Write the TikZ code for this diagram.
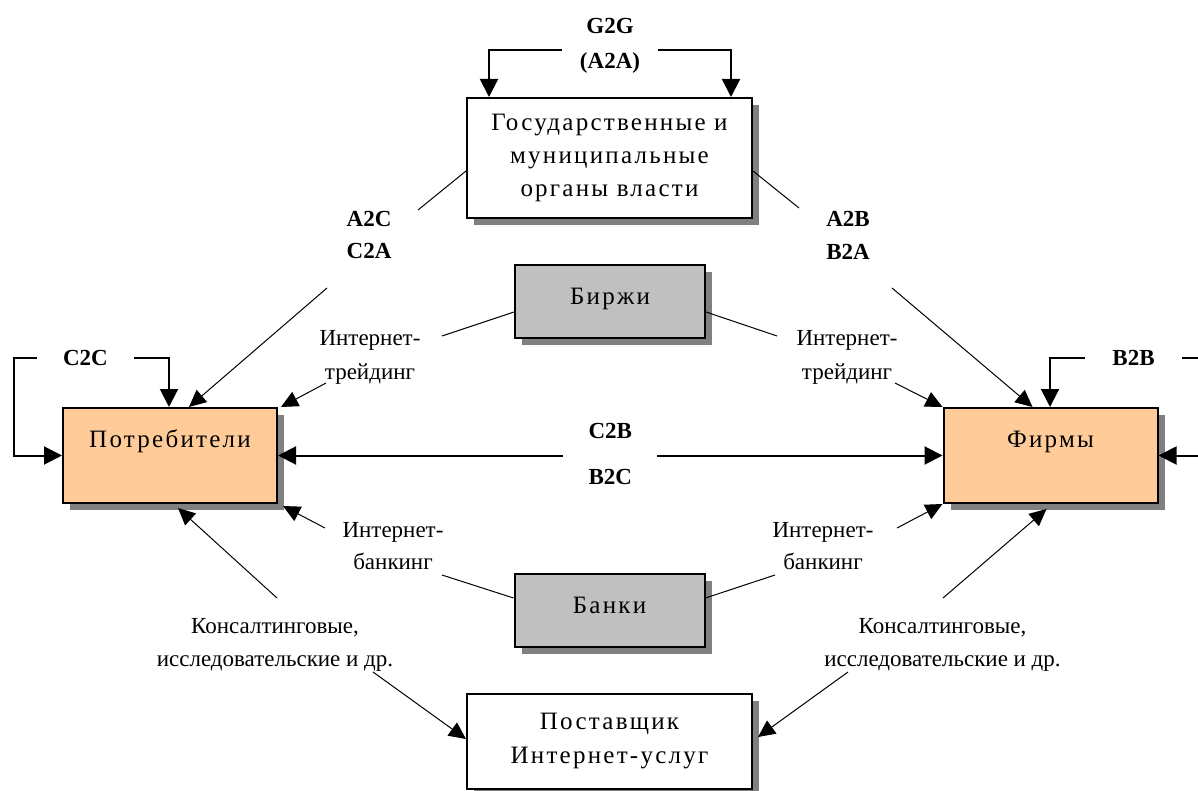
\documentclass[tikz,border=0pt]{standalone}
\usepackage{fontspec}
\setmainfont{Liberation Serif}
\newfontfamily\boxfont[LetterSpace=9]{Liberation Serif}
\usetikzlibrary{arrows.meta,shadows}
\definecolor{peach}{HTML}{FFCC99}
\definecolor{silverbox}{HTML}{C0C0C0}
\definecolor{shadowgray}{HTML}{808080}
\begin{document}
\begin{tikzpicture}[x=1pt,y=-1pt,
  panel/.style={draw=black, line width=2pt, inner sep=0pt, align=center,
    font=\boxfont\fontsize{25}{33}\selectfont,
    drop shadow={shadow xshift=7pt, shadow yshift=-7pt, fill=shadowgray, opacity=1}},
  lbl/.style={inner sep=0pt, align=center, font=\fontsize{23}{33.4}\selectfont},
  blbl/.style={inner sep=0pt, align=center, font=\bfseries\fontsize{23}{32.3}\selectfont},
  gapnode/.style={fill=white, inner ysep=2pt, align=center},
  thk/.style={line width=2pt},
  thn/.style={line width=1pt},
  onearrow/.style={-{Triangle[length=17pt,width=16pt]}},
  twoarrows/.style={{Triangle[length=18pt,width=18pt]}-{Triangle[length=18pt,width=18pt]}}
]
\useasboundingbox (0,0) rectangle (1198,791);
\fill[white] (0,0) rectangle (1198,791);
\clip (0,0) rectangle (1198,791);

% boxes
\node[panel, fill=white, minimum width=285pt, minimum height=120pt] (gov) at (609.5,158) {Государственные и\\муниципальные\\органы власти};
\node[panel, fill=silverbox, minimum width=190pt, minimum height=73pt, text height=17pt, text depth=10pt] (birzhi) at (610,301.5) {Биржи};
\node[panel, fill=silverbox, minimum width=190pt, minimum height=73pt, text height=17pt, text depth=11pt] (banki) at (609.5,610.5) {Банки};
\node[panel, fill=peach, minimum width=214pt, minimum height=95pt, text height=17pt, text depth=34pt] (cons) at (170,455.5) {Потребители};
\node[panel, fill=peach, minimum width=214pt, minimum height=95pt, text height=17pt, text depth=34pt] (firms) at (1050.5,455.5) {Фирмы};
\node[panel, fill=white, minimum width=285pt, minimum height=95pt, font=\boxfont\fontsize{25}{34}\selectfont] (isp) at (609.5,741.5) {Поставщик\\Интернет-услуг};

% labels
\node[blbl] (a2c) at (369,235.3) {A2C\\C2A};
\node[blbl] (a2b) at (848,235.3) {A2B\\B2A};
\node[lbl, font=\fontsize{23}{34}\selectfont] (trL) at (370,357) {Интернет-\\трейдинг};
\node[lbl, font=\fontsize{23}{34}\selectfont] (trR) at (847,357) {Интернет-\\трейдинг};
\node[lbl, font=\fontsize{23}{31.3}\selectfont] (bkL) at (393,546) {Интернет-\\банкинг};
\node[lbl, font=\fontsize{23}{31.3}\selectfont] (bkR) at (823,546) {Интернет-\\банкинг};
\node[lbl] (csL) at (275,645) {Консалтинговые,\\исследовательские и др.};
\node[lbl] (csR) at (942.5,645) {Консалтинговые,\\исследовательские и др.};

% G2G loop
\coordinate (g2gL) at (489,50);
\coordinate (g2gR) at (731,50);
\draw[thk, twoarrows] (gov.north -| g2gL) -- (g2gL) -- node[gapnode, blbl, inner xsep=17.5pt, yshift=4.2pt, font=\bfseries\fontsize{23}{35}\selectfont] (g2g) {G2G\\(A2A)} (g2gR) -- (gov.north -| g2gR);

% C2C loop
\coordinate (c2cL) at (14,358);
\coordinate (c2cR) at (169,358);
\draw[thk, twoarrows] (cons.west) -| (c2cL) -- node[gapnode, blbl, pos=0.461, inner xsep=26pt] (c2c) {C2C} (c2cR) -- (cons.north -| c2cR);

% B2B loop
\coordinate (b2bL) at (1050,358);
\coordinate (b2bR) at (1215,358);
\draw[thk, twoarrows] (firms.north -| b2bL) -- (b2bL) -- node[gapnode, blbl, pos=0.506, inner xsep=27.5pt] (b2b) {B2B} (b2bR) |- (firms.east);

% C2B / B2C
\draw[thk, twoarrows] (cons.east) -- node[gapnode, blbl, inner xsep=25.5pt, yshift=1.5pt, font=\bfseries\fontsize{23}{46}\selectfont] (c2b) {C2B\\B2C} (firms.west);

% A2C / A2B
\coordinate (a2cU) at (418,210);
\coordinate (a2cD) at (327,288);
\draw[thn] ([yshift=-74pt]gov.north west) -- (a2cU);
\draw[thn, onearrow] (a2cD) -- ([xshift=127pt]cons.north west);
\coordinate (a2bU) at (799,208);
\coordinate (a2bD) at (892,288);
\draw[thn] ([yshift=-74pt]gov.north east) -- (a2bU);
\draw[thn, onearrow] (a2bD) -- ([xshift=90pt]firms.north west);

% trading
\coordinate (trLU) at (442,336);
\coordinate (trLD) at (326,383);
\draw[thn] ([yshift=-10.5pt]birzhi.west) -- (trLU);
\draw[thn, onearrow] (trLD) -- ([xshift=3pt]cons.north east);
\coordinate (trRU) at (777,336);
\coordinate (trRD) at (895,383);
\draw[thn] ([yshift=-10.5pt]birzhi.east) -- (trRU);
\draw[thn, onearrow] (trRD) -- (firms.north west);

% banking
\coordinate (bkLU) at (442,575);
\coordinate (bkLD) at (325,528);
\draw[thn] ([yshift=12.5pt]banki.west) -- (bkLU);
\draw[thn, onearrow] (bkLD) -- ([xshift=5pt,yshift=-2pt]cons.south east);
\coordinate (bkRU) at (775,575);
\coordinate (bkRD) at (897,528);
\draw[thn] ([yshift=12.5pt]banki.east) -- (bkRU);
\draw[thn, onearrow] (bkRD) -- (firms.south west);

% consulting
\coordinate (csLU) at (277,598);
\coordinate (csLD) at (373,672);
\draw[thn, onearrow] (csLU) -- ([xshift=116pt,yshift=-4pt]cons.south west);
\draw[thn, onearrow] (csLD) -- ([yshift=-46pt]isp.north west);
\coordinate (csRU) at (943,598);
\coordinate (csRD) at (848,672);
\draw[thn, onearrow] (csRU) -- ([xshift=104pt,yshift=-5pt]firms.south west);
\draw[thn, onearrow] (csRD) -- ([xshift=5pt,yshift=-44pt]isp.north east);
\end{tikzpicture}
\end{document}
